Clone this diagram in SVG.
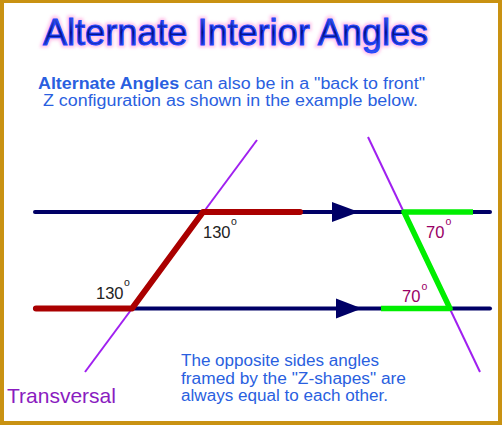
<svg xmlns="http://www.w3.org/2000/svg" width="502" height="425" viewBox="0 0 502 425">
<defs>
<linearGradient id="tg" x1="0" y1="0" x2="0" y2="1">
<stop offset="0" stop-color="#4a6cff"/>
<stop offset="0.5" stop-color="#000e80"/>
<stop offset="1" stop-color="#3358f5"/>
</linearGradient>
<filter id="glow" x="-10%" y="-40%" width="120%" height="180%">
<feGaussianBlur stdDeviation="1.8"/>
</filter>
<style>
.navy{stroke:#000066;stroke-width:4;stroke-linecap:round;fill:none}
.trans{stroke:#a020f0;stroke-width:2;fill:none}
.red{stroke:#aa0000;stroke-width:6;stroke-linecap:round;stroke-linejoin:round;fill:none}
.green{stroke:#00ee00;stroke-width:5.5;stroke-linejoin:round;fill:none}
.lbl{font-family:"Liberation Sans",Arial,sans-serif;font-size:16.5px}
.deg{font-family:"Liberation Sans",Arial,sans-serif;font-size:10.5px}
.info{font-family:"Liberation Sans",Arial,sans-serif;font-size:16px;fill:#2a5fe0}
</style>
</defs>
<rect x="0" y="0" width="502" height="425" fill="#c99212"/>
<rect x="4" y="3" width="494" height="418" fill="#ffffff"/>

<g id="title">
<text x="43" y="45" font-family="Liberation Sans,Arial,sans-serif" font-size="37" fill="#ffb8e6" stroke="#ffb8e6" stroke-width="5" opacity="0.8" filter="url(#glow)" textLength="385" lengthAdjust="spacingAndGlyphs">Alternate Interior Angles</text>
<text x="43" y="45" font-family="Liberation Sans,Arial,sans-serif" font-size="37" fill="url(#tg)" stroke="#2244ff" stroke-width="1.1" textLength="385" lengthAdjust="spacingAndGlyphs">Alternate Interior Angles</text>
</g>

<g id="intro">
<text class="info" x="38" y="89" textLength="387" lengthAdjust="spacingAndGlyphs"><tspan font-weight="bold">Alternate Angles</tspan> can also be in a "back to front"</text>
<text class="info" x="43" y="106" textLength="375" lengthAdjust="spacingAndGlyphs">Z configuration as shown in the example below.</text>
</g>

<g id="connectors">
<line class="navy" x1="35" y1="212" x2="490" y2="212"/>
<line class="navy" x1="35" y1="308.5" x2="490" y2="308.5"/>
<polygon points="332,202 332,222 359,212" fill="#000066"/>
<polygon points="336,298.5 336,318.5 362,308.5" fill="#000066"/>
<line class="trans" x1="257" y1="140" x2="85" y2="372"/>
<line class="trans" x1="368" y1="137" x2="480" y2="372"/>
<polyline class="red" points="300,212 203,212 132,308.5 36,308.5"/>
<polyline class="green" points="473,212 404,212 450,308.5 381,308.5"/>
</g>

<g id="angle-130-top">
<text class="lbl" x="203" y="237.5" fill="#222">130</text>
<text class="deg" x="231" y="225" fill="#222">o</text>
</g>
<g id="angle-130-bottom">
<text class="lbl" x="96" y="298.5" fill="#222">130</text>
<text class="deg" x="124" y="285.5" fill="#222">o</text>
</g>
<g id="angle-70-top">
<text class="lbl" x="426" y="237.5" fill="#990066">70</text>
<text class="deg" x="445.5" y="225" fill="#990066">o</text>
</g>
<g id="angle-70-bottom">
<text class="lbl" x="402" y="302" fill="#990066">70</text>
<text class="deg" x="421.5" y="289.5" fill="#990066">o</text>
</g>

<g id="transversal-label">
<text x="7" y="403" font-family="Liberation Sans,Arial,sans-serif" font-size="21" fill="#8a1cc0">Transversal</text>
</g>

<g id="note">
<text class="info" x="181" y="366" textLength="198" lengthAdjust="spacingAndGlyphs">The opposite sides angles</text>
<text class="info" x="181" y="383.5" textLength="225" lengthAdjust="spacingAndGlyphs">framed by the "Z-shapes" are</text>
<text class="info" x="181" y="401" textLength="207" lengthAdjust="spacingAndGlyphs">always equal to each other.</text>
</g>
</svg>
